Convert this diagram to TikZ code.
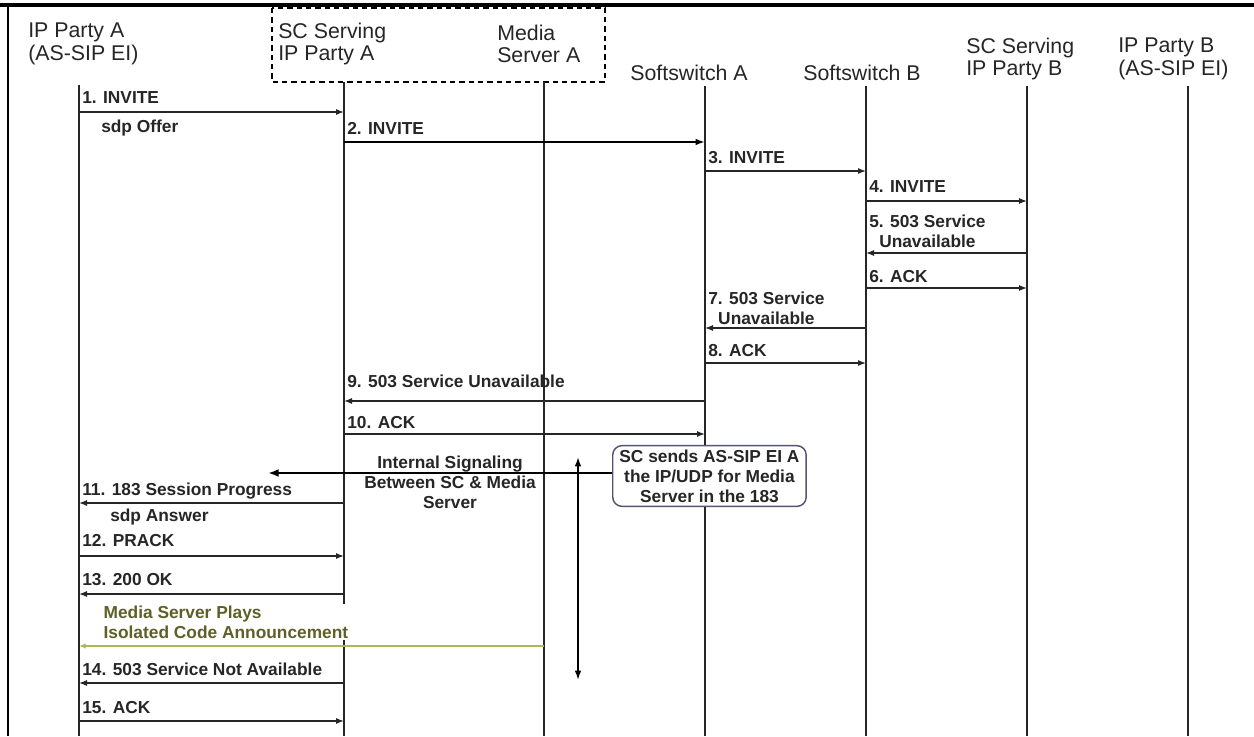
\documentclass[tikz,border=0pt]{standalone}
\usepackage{fontspec}
\setmainfont{Liberation Sans}
\usetikzlibrary{arrows.meta}
\definecolor{olivetext}{RGB}{95,95,40}
\definecolor{oliveline}{RGB}{170,185,80}
\definecolor{boxedge}{RGB}{85,85,115}
\begin{document}
\begin{tikzpicture}[x=0.75pt,y=-0.75pt,
  life/.style={line width=1.3pt, black!85},
  msg/.style={line width=0.9pt, black!85, -{Latex[length=6pt,width=4.5pt]}},
  bigmsg/.style={line width=1.5pt, black, -{Latex[length=7pt,width=5pt]}},
  lbl/.style={font=\fontsize{13}{15}\selectfont\bfseries, inner sep=0pt, anchor=west, text height=9.3pt, text depth=0pt, black!85},
  mlbl/.style={font=\fontsize{13}{15}\selectfont\bfseries, inner sep=0pt, align=center, black!85},
  hdr/.style={font=\fontsize{16}{17}\selectfont, inner sep=0pt, align=left, black!85}]
\useasboundingbox (0,0) rectangle (1254,736);
\fill[white] (0,0) rectangle (1254,736);
% frame
\draw[line width=3pt] (0,5) -- (1254,5);
\draw[line width=2.2pt] (8,5) -- (8,736);
% dashed group box
\draw[line width=1.1pt, dash pattern=on 4pt off 3pt] (272,8) rectangle (605,82);
% headers
\node[hdr, anchor=west] (hA) at (28,44) {IP Party A\\(AS-SIP EI)};
\node[hdr, anchor=west] (hSC) at (278,44) {SC Serving\\IP Party A};
\node[hdr, anchor=west] (hMS) at (497,44) {Media\\Server A};
\node[hdr] (hSWA) at (689,73) {Softswitch A};
\node[hdr] (hSWB) at (862,73) {Softswitch B};
\node[hdr, anchor=west] (hSCB) at (966,59) {SC Serving\\IP Party B};
\node[hdr, anchor=west] (hB) at (1118,59) {IP Party B\\(AS-SIP EI)};
% lifeline ends
\coordinate (A0) at (79,85);   \coordinate (A9) at (79,736);
\coordinate (S0) at (344,82);  \coordinate (S9) at (344,736);
\coordinate (M0) at (544,82);  \coordinate (M9) at (544,736);
\coordinate (W0) at (705,86);  \coordinate (W9) at (705,736);
\coordinate (V0) at (866,86);  \coordinate (V9) at (866,736);
\coordinate (P0) at (1027,86); \coordinate (P9) at (1027,736);
\coordinate (B0) at (1188,86); \coordinate (B9) at (1188,736);
\foreach \a/\b in {A0/A9,S0/S9,M0/M9,W0/W9,V0/V9,P0/P9,B0/B9} \draw[life] (\a) -- (\b);
% message end points
\foreach \n/\y in {1/112,2/142,3/171,4/201,5/253,6/288,7/328,8/363,9/401,10/434,11/503,12/556,13/594,14/683,15/721,16/646}{
  \coordinate (A\n) at (79,\y);
  \coordinate (S\n) at (344,\y);
  \coordinate (M\n) at (544,\y);
  \coordinate (W\n) at (705,\y);
  \coordinate (V\n) at (866,\y);
  \coordinate (P\n) at (1027,\y);
}
% 1
\node[lbl] (l1) at (82,97) {1. INVITE};
\draw[msg] (A1) -- (S1);
\node[lbl] (l1b) at (101,126) {sdp Offer};
% 2
\node[lbl] (l2) at (347,128) {2. INVITE};
\draw[bigmsg] (S2) -- (W2);
% 3
\node[lbl] (l3) at (708,157) {3. INVITE};
\draw[msg] (W3) -- (V3);
% 4
\node[lbl] (l4) at (869,186) {4. INVITE};
\draw[msg] (V4) -- (P4);
% 5
\node[mlbl, anchor=north west] (l5) at (869,215) {5. 503 Service\\Unavailable};
\draw[msg] (P5) -- (V5);
% 6
\node[lbl] (l6) at (869,276) {6. ACK};
\draw[msg] (V6) -- (P6);
% 7
\node[mlbl, anchor=north west] (l7) at (708,292) {7. 503 Service\\Unavailable};
\draw[msg] (V7) -- (W7);
% 8
\node[lbl] (l8) at (708,350) {8. ACK};
\draw[msg] (W8) -- (V8);
% 9
\node[lbl] (l9) at (347,381) {9. 503 Service Unavailable};
\draw[msg] (W9) -- (S9);
% 10
\node[lbl] (l10) at (347,422) {10. ACK};
\draw[msg] (S10) -- (W10);
% internal signalling text
\node[mlbl] (isig) at (450,482) {Internal Signaling\\Between SC \& Media\\Server};
% rounded note box
\node[mlbl, draw=boxedge, line width=1.1pt, rounded corners=7pt, fill=white, inner xsep=5pt, inner ysep=3pt, anchor=west] (note) at (612,476) {SC sends AS-SIP EI A\\the IP/UDP for Media\\Server in the 183};
\coordinate (tip) at (268,473);
\draw[line width=2pt, -{Latex[length=8pt,width=6pt]}] (note.west |- tip) -- (tip);
% vertical double arrow
\coordinate (d1) at (578,457);
\coordinate (d2) at (578,680);
\draw[line width=1.3pt, {Latex[length=7pt,width=5pt]}-{Latex[length=7pt,width=5pt]}] (d1) -- (d2);
% 11
\node[lbl] (l11) at (82,489) {11. 183 Session Progress};
\draw[msg] (S11) -- (A11);
\node[lbl] (l11b) at (110,515) {sdp Answer};
% 12
\node[lbl] (l12) at (82,540) {12. PRACK};
\draw[msg] (A12) -- (S12);
% 13
\node[lbl] (l13) at (82,579) {13. 200 OK};
\draw[msg] (S13) -- (A13);
% media server plays
\draw[line width=1pt, oliveline, -{Latex[length=5pt,width=4pt]}] (M16) -- (A16);
\node[mlbl, text=olivetext, align=left, anchor=north west, fill=white, inner sep=1pt] (l16) at (102,604) {Media Server Plays\\Isolated Code Announcement};
% 14
\node[lbl] (l14) at (82,669) {14. 503 Service Not Available};
\draw[msg] (S14) -- (A14);
% 15
\node[lbl] (l15) at (82,707) {15. ACK};
\draw[msg] (A15) -- (S15);
\end{tikzpicture}
\end{document}
